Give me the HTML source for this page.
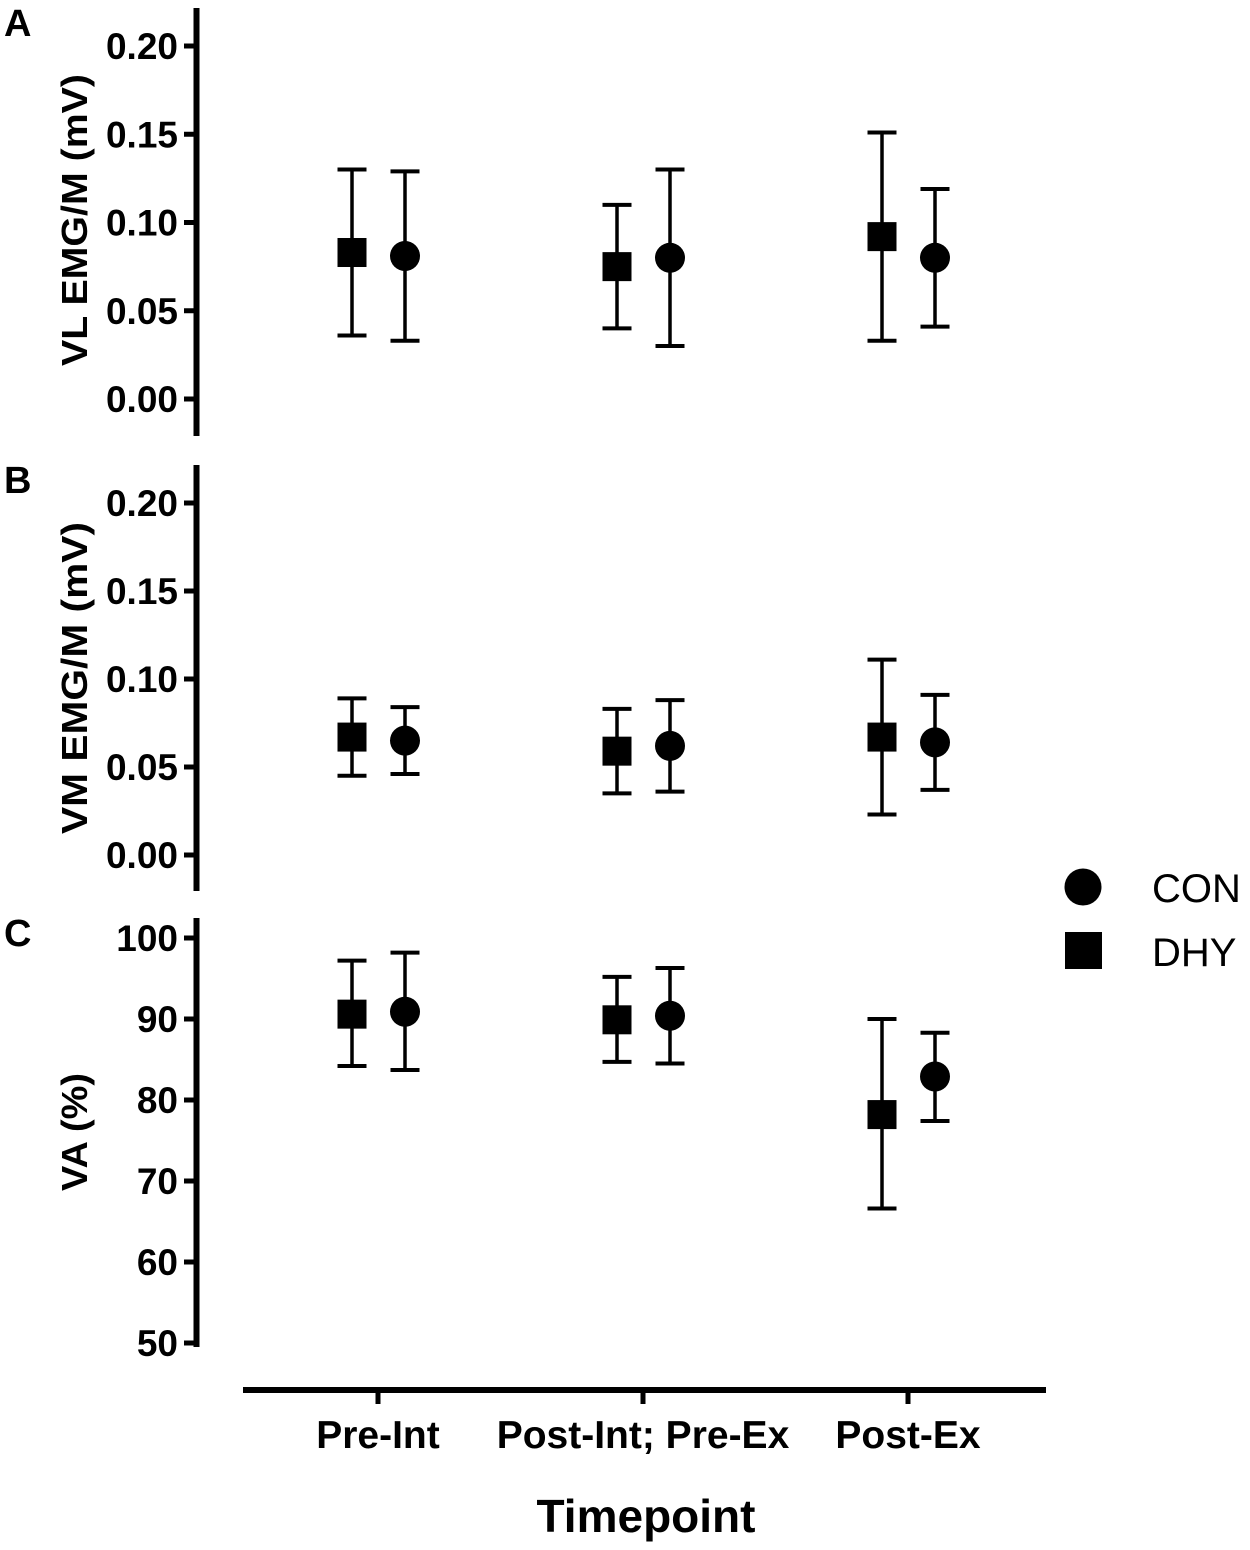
<!DOCTYPE html>
<html><head><meta charset="utf-8"><style>body{margin:0;background:#fff}svg{display:block}text{font-family:"Liberation Sans",Arial,sans-serif;fill:#000}</style></head>
<body>
<svg id="chart" width="1250" height="1550" viewBox="0 0 1250 1550" xmlns="http://www.w3.org/2000/svg"></svg>
<script>
const categories = ["Pre-Int", "Post-Int; Pre-Ex", "Post-Ex"];
const vlDhyMean = [0.083, 0.075, 0.092];
const vlDhyLow = [0.036, 0.040, 0.033];
const vlDhyHigh = [0.130, 0.110, 0.151];
const vlConMean = [0.081, 0.080, 0.080];
const vlConLow = [0.033, 0.030, 0.041];
const vlConHigh = [0.129, 0.130, 0.119];
const vmDhyMean = [0.067, 0.059, 0.067];
const vmDhyLow = [0.045, 0.035, 0.023];
const vmDhyHigh = [0.089, 0.083, 0.111];
const vmConMean = [0.065, 0.062, 0.064];
const vmConLow = [0.046, 0.036, 0.037];
const vmConHigh = [0.084, 0.088, 0.091];
const vaDhyMean = [90.6, 89.9, 78.2];
const vaDhyLow = [84.2, 84.7, 66.6];
const vaDhyHigh = [97.2, 95.2, 90.0];
const vaConMean = [90.9, 90.4, 82.9];
const vaConLow = [83.7, 84.5, 77.4];
const vaConHigh = [98.2, 96.3, 88.3];
const emgTicks = [0, 0.05, 0.10, 0.15, 0.20];
const emgTickLabels = ["0.00", "0.05", "0.10", "0.15", "0.20"];
const vaTicks = [50, 60, 70, 80, 90, 100];
const vaTickLabels = ["50", "60", "70", "80", "90", "100"];

const NS = "http://www.w3.org/2000/svg";
const svg = document.getElementById("chart");
function mk(tag, attrs, parent) {
  const e = document.createElementNS(NS, tag);
  for (const k in attrs) e.setAttribute(k, attrs[k]);
  (parent || svg).appendChild(e);
  return e;
}
function xCat(i) { return 378 + i * 265; }

const panels = [
  {letter:"A", title:"VL EMG/M (mV)", top:8, bottom:436, y0:0, y1:0.20, p0:399, p1:46, ticks:emgTicks, labels:emgTickLabels, labelY:220, labelLen:292,
   d:[vlDhyMean, vlDhyLow, vlDhyHigh], c:[vlConMean, vlConLow, vlConHigh], letterY:36, name:"vl"},
  {letter:"B", title:"VM EMG/M (mV)", top:465, bottom:891, y0:0, y1:0.20, p0:855, p1:503, ticks:emgTicks, labels:emgTickLabels, labelY:678, labelLen:312,
   d:[vmDhyMean, vmDhyLow, vmDhyHigh], c:[vmConMean, vmConLow, vmConHigh], letterY:493, name:"vm"},
  {letter:"C", title:"VA (%)", top:918, bottom:1347, y0:50, y1:100, p0:1343, p1:938, ticks:vaTicks, labels:vaTickLabels, labelY:1132, labelLen:118,
   d:[vaDhyMean, vaDhyLow, vaDhyHigh], c:[vaConMean, vaConLow, vaConHigh], letterY:946, name:"va"}
];

panels.forEach(p => {
  const g = mk("g", {});
  
  
  const y = v => p.p0 + (v - p.y0) / (p.y1 - p.y0) * (p.p1 - p.p0);
  const L = mk("text", {x:4, y:p.letterY, "font-size":38, "font-weight":"bold"}, g);
  L.textContent = p.letter;
  
  
  const ax = mk("line", {x1:196.5, x2:196.5, y1:p.top, y2:p.bottom, stroke:"#000", "stroke-width":6}, g);
  
  
  p.ticks.forEach((t, i) => {
    const tk = mk("line", {x1:184, x2:197, y1:y(t), y2:y(t), stroke:"#000", "stroke-width":5}, g);
    
    
    const tl = mk("text", {x:178, y:y(t) + 13, "font-size":37, "font-weight":"bold", "text-anchor":"end"}, g);
    tl.textContent = p.labels[i];
    
    
  });
  const yt = mk("text", {x:0, y:0, "font-size":36, "font-weight":"bold", "text-anchor":"middle", textLength:p.labelLen, lengthAdjust:"spacingAndGlyphs", transform:`translate(87,${p.labelY}) rotate(-90)`}, g);
  yt.textContent = p.title;
  
  
  [[p.d, -26, "dhy"], [p.c, 27, "con"]].forEach(([s, off, nm]) => {
    s[0].forEach((m, i) => {
      const cx = xCat(i) + off;
      const eg = mk("g", {stroke:"#000"}, g);
      
      
      mk("line", {x1:cx, x2:cx, y1:y(s[1][i]), y2:y(s[2][i]), "stroke-width":3.5}, eg);
      mk("line", {x1:cx - 14.5, x2:cx + 14.5, y1:y(s[1][i]), y2:y(s[1][i]), "stroke-width":4}, eg);
      mk("line", {x1:cx - 14.5, x2:cx + 14.5, y1:y(s[2][i]), y2:y(s[2][i]), "stroke-width":4}, eg);
      let mark;
      if (nm === "dhy") mark = mk("rect", {x:cx - 14.5, y:y(m) - 14.5, width:29, height:29, fill:"#000"}, g);
      else mark = mk("circle", {cx:cx, cy:y(m), r:15, fill:"#000"}, g);
      
      
    });
  });
});

const xa = mk("line", {x1:243, x2:1046, y1:1390, y2:1390, stroke:"#000", "stroke-width":6});


categories.forEach((c, i) => {
  const tk = mk("line", {x1:xCat(i), x2:xCat(i), y1:1390, y2:1404, stroke:"#000", "stroke-width":5});
  
  
  const tl = mk("text", {x:xCat(i), y:1448, "font-size":39, "font-weight":"bold", "text-anchor":"middle"});
  tl.textContent = c;
  
  
});
const xt = mk("text", {x:646, y:1532, "font-size":46, "font-weight":"bold", "text-anchor":"middle"});
xt.textContent = "Timepoint";



const lg = mk("g", {});


const l1 = mk("circle", {cx:1083, cy:887, r:18.5, fill:"#000"}, lg);


const t1 = mk("text", {x:1152, y:902, "font-size":40}, lg);
t1.textContent = "CON";


const l2 = mk("rect", {x:1065, y:932, width:37, height:37, fill:"#000"}, lg);


const t2 = mk("text", {x:1152, y:966, "font-size":40}, lg);
t2.textContent = "DHY";


</script>
</body></html>
